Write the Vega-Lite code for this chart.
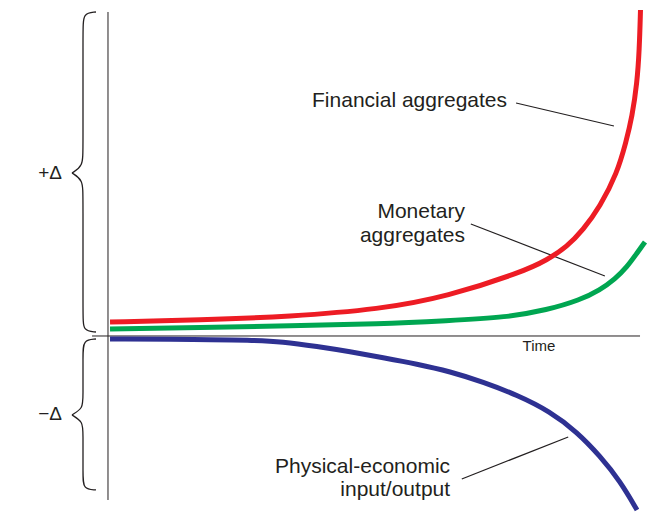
{
  "$schema": "https://vega.github.io/schema/vega-lite/v6.json",
  "width": 653,
  "height": 527,
  "padding": 0,
  "autosize": {"type": "none"},
  "background": "white",
  "config": {"view": {"stroke": null}, "text": {"font": "Liberation Sans", "color": "#231f20"}},
  "datasets": {
    "curves": [
      {"series": "Financial aggregates", "t": 0.38, "v": 4.17},
      {"series": "Financial aggregates", "t": 17.29, "v": 4.76},
      {"series": "Financial aggregates", "t": 34.21, "v": 5.8},
      {"series": "Financial aggregates", "t": 51.13, "v": 7.95},
      {"series": "Financial aggregates", "t": 63.72, "v": 11.7},
      {"series": "Financial aggregates", "t": 78.01, "v": 19.14},
      {"series": "Financial aggregates", "t": 82.52, "v": 22.62},
      {"series": "Financial aggregates", "t": 86.28, "v": 26.58},
      {"series": "Financial aggregates", "t": 89.29, "v": 31.55},
      {"series": "Financial aggregates", "t": 92.48, "v": 38.48},
      {"series": "Financial aggregates", "t": 95.68, "v": 48.42},
      {"series": "Financial aggregates", "t": 97.37, "v": 57.74},
      {"series": "Financial aggregates", "t": 98.5, "v": 65.18},
      {"series": "Financial aggregates", "t": 99.44, "v": 75.3},
      {"series": "Financial aggregates", "t": 99.87, "v": 85.12},
      {"series": "Financial aggregates", "t": 100.09, "v": 97.02},
      {"series": "Monetary aggregates", "t": 0.38, "v": 2.08},
      {"series": "Monetary aggregates", "t": 17.29, "v": 2.53},
      {"series": "Monetary aggregates", "t": 34.21, "v": 3.04},
      {"series": "Monetary aggregates", "t": 51.13, "v": 3.57},
      {"series": "Monetary aggregates", "t": 63.72, "v": 4.55},
      {"series": "Monetary aggregates", "t": 75.0, "v": 5.57},
      {"series": "Monetary aggregates", "t": 82.52, "v": 7.74},
      {"series": "Monetary aggregates", "t": 88.72, "v": 10.71},
      {"series": "Monetary aggregates", "t": 92.48, "v": 13.69},
      {"series": "Monetary aggregates", "t": 95.3, "v": 16.96},
      {"series": "Monetary aggregates", "t": 97.56, "v": 20.54},
      {"series": "Monetary aggregates", "t": 99.44, "v": 24.7},
      {"series": "Monetary aggregates", "t": 100.94, "v": 27.98},
      {"series": "Physical-economic input/output", "t": 0.38, "v": -0.89},
      {"series": "Physical-economic input/output", "t": 17.29, "v": -1.04},
      {"series": "Physical-economic input/output", "t": 26.69, "v": -1.19},
      {"series": "Physical-economic input/output", "t": 32.89, "v": -1.7},
      {"series": "Physical-economic input/output", "t": 39.29, "v": -3.13},
      {"series": "Physical-economic input/output", "t": 45.49, "v": -4.67},
      {"series": "Physical-economic input/output", "t": 51.69, "v": -6.46},
      {"series": "Physical-economic input/output", "t": 58.08, "v": -8.33},
      {"series": "Physical-economic input/output", "t": 64.29, "v": -10.57},
      {"series": "Physical-economic input/output", "t": 70.49, "v": -13.69},
      {"series": "Physical-economic input/output", "t": 76.88, "v": -17.56},
      {"series": "Physical-economic input/output", "t": 83.08, "v": -22.47},
      {"series": "Physical-economic input/output", "t": 88.16, "v": -28.57},
      {"series": "Physical-economic input/output", "t": 92.48, "v": -35.71},
      {"series": "Physical-economic input/output", "t": 96.24, "v": -43.15},
      {"series": "Physical-economic input/output", "t": 99.44, "v": -51.79}
    ],
    "axes": [
      {"id": "vertical", "t": 0, "v": 96.43, "t2": 0, "v2": -48.81},
      {"id": "horizontal", "t": -3.0, "v": 0, "t2": 100, "v2": 0}
    ],
    "leaders": [
      {"id": "Financial", "t": 76.7, "v": 69.35, "t2": 95.1, "v2": 62.5},
      {"id": "Monetary", "t": 68.2, "v": 33.33, "t2": 93.4, "v2": 17.86},
      {"id": "Physical", "t": 66.5, "v": -42.56, "t2": 86.5, "v2": -30.06}
    ],
    "braces": [
      {"part": "A", "k": 0, "t": -2.26, "v": 96.43},
      {"part": "A", "k": 1, "t": -4.7, "v": 96.13},
      {"part": "A", "k": 2, "t": -4.7, "v": 91.07},
      {"part": "A", "k": 3, "t": -4.7, "v": 55.36},
      {"part": "A", "k": 4, "t": -4.7, "v": 50.6},
      {"part": "A", "k": 5, "t": -6.77, "v": 48.51},
      {"part": "B", "k": 0, "t": -6.77, "v": 48.51},
      {"part": "B", "k": 1, "t": -4.7, "v": 46.43},
      {"part": "B", "k": 2, "t": -4.7, "v": 41.67},
      {"part": "B", "k": 3, "t": -4.7, "v": 5.95},
      {"part": "B", "k": 4, "t": -4.7, "v": 1.49},
      {"part": "B", "k": 5, "t": -2.26, "v": 1.19},
      {"part": "C", "k": 0, "t": -2.26, "v": -0.89},
      {"part": "C", "k": 1, "t": -4.7, "v": -1.19},
      {"part": "C", "k": 2, "t": -4.7, "v": -5.65},
      {"part": "C", "k": 3, "t": -4.7, "v": -18.45},
      {"part": "C", "k": 4, "t": -4.7, "v": -21.43},
      {"part": "C", "k": 5, "t": -6.77, "v": -23.51},
      {"part": "D", "k": 0, "t": -6.77, "v": -23.51},
      {"part": "D", "k": 1, "t": -4.7, "v": -25.6},
      {"part": "D", "k": 2, "t": -4.7, "v": -28.57},
      {"part": "D", "k": 3, "t": -4.7, "v": -41.37},
      {"part": "D", "k": 4, "t": -4.7, "v": -45.54},
      {"part": "D", "k": 5, "t": -2.26, "v": -45.83}
    ],
    "labels": [
      {"label": "Financial aggregates", "t": 75.0, "v": 68.15},
      {"label": "Monetary", "t": 67.1, "v": 35.12},
      {"label": "aggregates", "t": 67.1, "v": 27.98},
      {"label": "Physical-economic", "t": 64.3, "v": -40.77},
      {"label": "input/output", "t": 64.3, "v": -47.62}
    ],
    "deltas": [
      {"label": "+Δ", "t": -8.65, "v": 46.73},
      {"label": "−Δ", "t": -8.65, "v": -25.0}
    ],
    "timeLabel": [
      {"label": "Time", "t": 81.0, "v": -4.46}
    ]
  },
  "layer": [
    {
      "data": {"name": "axes"},
      "mark": {"type": "rule", "color": "#231f20", "strokeWidth": 1},
      "encoding": {
        "x": {"field": "t", "type": "quantitative", "scale": {"domain": [-20.3, 102.44], "nice": false, "zero": false}, "axis": null},
        "y": {"field": "v", "type": "quantitative", "scale": {"domain": [-56.85, 100], "nice": false, "zero": false}, "axis": null},
        "x2": {"field": "t2"},
        "y2": {"field": "v2"}
      }
    },
    {
      "data": {"name": "braces"},
      "mark": {"type": "line", "color": "#231f20", "strokeWidth": 1.3, "interpolate": "basis"},
      "encoding": {
        "x": {"field": "t", "type": "quantitative", "axis": null},
        "y": {"field": "v", "type": "quantitative", "axis": null},
        "detail": {"field": "part"},
        "order": {"field": "k", "type": "quantitative"}
      }
    },
    {
      "data": {"name": "leaders"},
      "mark": {"type": "rule", "color": "#231f20", "strokeWidth": 1.2},
      "encoding": {
        "x": {"field": "t", "type": "quantitative", "axis": null},
        "y": {"field": "v", "type": "quantitative", "axis": null},
        "x2": {"field": "t2"},
        "y2": {"field": "v2"}
      }
    },
    {
      "data": {"name": "curves"},
      "mark": {"type": "line", "strokeWidth": 5, "interpolate": "basis", "strokeCap": "butt"},
      "encoding": {
        "x": {"field": "t", "type": "quantitative", "axis": null},
        "y": {"field": "v", "type": "quantitative", "axis": null},
        "color": {
          "field": "series",
          "type": "nominal",
          "scale": {"domain": ["Financial aggregates", "Monetary aggregates", "Physical-economic input/output"], "range": ["#ED1C24", "#00A651", "#2E3192"]},
          "legend": null
        }
      }
    },
    {
      "data": {"name": "labels"},
      "mark": {"type": "text", "fontSize": 21, "align": "right", "baseline": "alphabetic"},
      "encoding": {
        "x": {"field": "t", "type": "quantitative", "axis": null},
        "y": {"field": "v", "type": "quantitative", "axis": null},
        "text": {"field": "label"}
      }
    },
    {
      "data": {"name": "deltas"},
      "mark": {"type": "text", "fontSize": 19, "align": "right", "baseline": "alphabetic"},
      "encoding": {
        "x": {"field": "t", "type": "quantitative", "axis": null},
        "y": {"field": "v", "type": "quantitative", "axis": null},
        "text": {"field": "label"}
      }
    },
    {
      "data": {"name": "timeLabel"},
      "mark": {"type": "text", "fontSize": 15, "align": "center", "baseline": "alphabetic"},
      "encoding": {
        "x": {"field": "t", "type": "quantitative", "axis": null},
        "y": {"field": "v", "type": "quantitative", "axis": null},
        "text": {"field": "label"}
      }
    }
  ]
}
